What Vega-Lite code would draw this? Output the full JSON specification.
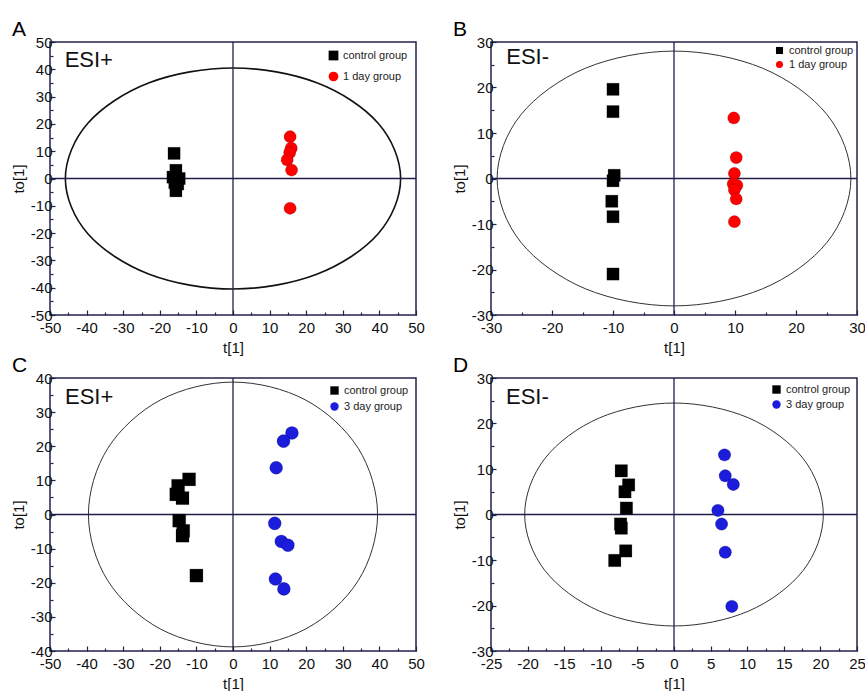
{
  "$schema": "https://vega.github.io/schema/vega-lite/v6.json",
  "padding": {"left": 10, "top": 18, "right": 0, "bottom": 0},
  "background": "white",
  "config": {
    "font": "Liberation Sans",
    "view": {"stroke": "#23234b", "strokeWidth": 1.5},
    "axis": {"domain": false, "grid": false, "ticks": true, "tickColor": "#23234b", "tickWidth": 1.2, "tickSize": -5, "labelFont": "Liberation Sans", "labelFontSize": 15, "labelColor": "#111", "labelPadding": 3, "labelFlush": false, "labelOverlap": false, "labelBound": false, "titleFont": "Liberation Sans", "titleFontSize": 15, "titleFontWeight": "normal", "titleColor": "#111"},
    "axisX": {"titlePadding": 5, "labelPadding": 10},
    "axisY": {"titlePadding": 4},
    "legend": {"labelFont": "Liberation Sans", "labelFontSize": 11, "labelColor": "#222", "symbolStrokeWidth": 0},
    "title": {"anchor": "start", "frame": "group", "fontSize": 21, "fontWeight": "normal", "font": "Liberation Sans", "dx": -38, "offset": -5, "color": "#000"}
  },
  "datasets": {
    "ellA": [{"i":0,"t":45.8,"to":0},{"i":1,"t":39.66,"to":20.25},{"i":2,"t":22.9,"to":35.07},{"i":3,"t":0,"to":40.5},{"i":4,"t":-22.9,"to":35.07},{"i":5,"t":-39.66,"to":20.25},{"i":6,"t":-45.8,"to":0},{"i":7,"t":-39.66,"to":-20.25},{"i":8,"t":-22.9,"to":-35.07},{"i":9,"t":0,"to":-40.5},{"i":10,"t":22.9,"to":-35.07},{"i":11,"t":39.66,"to":-20.25}],
    "ellB": [{"i":0,"t":29,"to":0},{"i":1,"t":25.11,"to":14},{"i":2,"t":14.5,"to":24.25},{"i":3,"t":0,"to":28},{"i":4,"t":-14.5,"to":24.25},{"i":5,"t":-25.11,"to":14},{"i":6,"t":-29,"to":0},{"i":7,"t":-25.11,"to":-14},{"i":8,"t":-14.5,"to":-24.25},{"i":9,"t":0,"to":-28},{"i":10,"t":14.5,"to":-24.25},{"i":11,"t":25.11,"to":-14}],
    "ellC": [{"i":0,"t":39.5,"to":0},{"i":1,"t":34.21,"to":19.4},{"i":2,"t":19.75,"to":33.6},{"i":3,"t":0,"to":38.8},{"i":4,"t":-19.75,"to":33.6},{"i":5,"t":-34.21,"to":19.4},{"i":6,"t":-39.5,"to":0},{"i":7,"t":-34.21,"to":-19.4},{"i":8,"t":-19.75,"to":-33.6},{"i":9,"t":0,"to":-38.8},{"i":10,"t":19.75,"to":-33.6},{"i":11,"t":34.21,"to":-19.4}],
    "ellD": [{"i":0,"t":20.4,"to":0},{"i":1,"t":17.67,"to":12.25},{"i":2,"t":10.2,"to":21.22},{"i":3,"t":0,"to":24.5},{"i":4,"t":-10.2,"to":21.22},{"i":5,"t":-17.67,"to":12.25},{"i":6,"t":-20.4,"to":0},{"i":7,"t":-17.67,"to":-12.25},{"i":8,"t":-10.2,"to":-21.22},{"i":9,"t":0,"to":-24.5},{"i":10,"t":10.2,"to":-21.22},{"i":11,"t":17.67,"to":-12.25}],
    "ptsA": [
      {"group":"control group","t":-16.1,"to":9.2},{"group":"control group","t":-15.6,"to":3.0},{"group":"control group","t":-16.4,"to":0.5},{"group":"control group","t":-14.7,"to":0.0},{"group":"control group","t":-15.9,"to":-1.5},{"group":"control group","t":-15.1,"to":-2.0},{"group":"control group","t":-15.6,"to":-4.5},
      {"group":"1 day group","t":15.6,"to":15.3},{"group":"1 day group","t":15.9,"to":11.1},{"group":"1 day group","t":15.5,"to":9.5},{"group":"1 day group","t":14.8,"to":6.8},{"group":"1 day group","t":16.0,"to":3.1},{"group":"1 day group","t":15.6,"to":-10.9}],
    "ptsB": [
      {"group":"control group","t":-10,"to":19.6},{"group":"control group","t":-10,"to":14.7},{"group":"control group","t":-9.8,"to":0.7},{"group":"control group","t":-10,"to":-0.5},{"group":"control group","t":-10.2,"to":-5},{"group":"control group","t":-10,"to":-8.4},{"group":"control group","t":-10,"to":-21},
      {"group":"1 day group","t":9.8,"to":13.3},{"group":"1 day group","t":10.2,"to":4.6},{"group":"1 day group","t":9.9,"to":1.1},{"group":"1 day group","t":9.7,"to":-1.2},{"group":"1 day group","t":10.3,"to":-1.5},{"group":"1 day group","t":9.9,"to":-2.5},{"group":"1 day group","t":10.2,"to":-4.5},{"group":"1 day group","t":9.9,"to":-9.5}],
    "ptsC": [
      {"group":"control group","t":-12,"to":10.3},{"group":"control group","t":-15,"to":8.4},{"group":"control group","t":-15.5,"to":5.9},{"group":"control group","t":-13.8,"to":4.8},{"group":"control group","t":-14.7,"to":-1.8},{"group":"control group","t":-13.6,"to":-4.8},{"group":"control group","t":-13.8,"to":-6.2},{"group":"control group","t":-10,"to":-17.9},
      {"group":"3 day group","t":16.1,"to":23.9},{"group":"3 day group","t":13.8,"to":21.5},{"group":"3 day group","t":11.8,"to":13.7},{"group":"3 day group","t":11.4,"to":-2.6},{"group":"3 day group","t":13.2,"to":-7.9},{"group":"3 day group","t":15,"to":-9},{"group":"3 day group","t":11.6,"to":-18.9},{"group":"3 day group","t":13.9,"to":-21.8}],
    "ptsD": [
      {"group":"control group","t":-7.2,"to":9.6},{"group":"control group","t":-6.2,"to":6.5},{"group":"control group","t":-6.7,"to":5.0},{"group":"control group","t":-6.5,"to":1.4},{"group":"control group","t":-7.3,"to":-2.1},{"group":"control group","t":-7.2,"to":-3.0},{"group":"control group","t":-6.6,"to":-8.0},{"group":"control group","t":-8.1,"to":-10.1},
      {"group":"3 day group","t":6.9,"to":13.1},{"group":"3 day group","t":7.0,"to":8.5},{"group":"3 day group","t":8.1,"to":6.6},{"group":"3 day group","t":6.0,"to":0.9},{"group":"3 day group","t":6.5,"to":-2.1},{"group":"3 day group","t":7.0,"to":-8.3},{"group":"3 day group","t":7.9,"to":-20.2}]
  },
  "columns": 2,
  "spacing": {"row": 63, "column": 75},
  "bounds": "flush",
  "resolve": {"scale": {"color": "independent", "shape": "independent"}, "legend": {"color": "independent", "shape": "independent"}},
  "concat": [
    {
      "title": {"text": "A"},
      "width": 366, "height": 273,
      "resolve": {"axis": {"x": "independent", "y": "independent"}},
      "layer": [
        {"data": {"name": "ellA"}, "mark": {"type": "line", "interpolate": "cardinal-closed", "color": "#111", "strokeWidth": 1.6},
         "encoding": {
           "x": {"field": "t", "type": "quantitative", "scale": {"domain": [-50, 50], "nice": false, "zero": false}, "axis": {"orient": "bottom", "title": "t[1]", "values": [-50,-40,-30,-20,-10,0,10,20,30,40,50], "labelExpr": "'' + datum.value"}},
           "y": {"field": "to", "type": "quantitative", "scale": {"domain": [-50, 50], "nice": false, "zero": false}, "axis": {"orient": "left", "title": "to[1]", "values": [-50,-40,-30,-20,-10,0,10,20,30,40,50], "labelExpr": "'' + datum.value"}},
           "order": {"field": "i", "type": "quantitative"}}},
        {"data": {"values": [{}]}, "mark": {"type": "rule", "color": "#1f1f4a", "strokeWidth": 1.3}, "encoding": {"x": {"datum": 0, "type": "quantitative", "axis": {"orient": "bottom", "title": null, "labels": false, "tickSize": -3, "values": [-45,-35,-25,-15,-5,5,15,25,35,45]}}}},
        {"data": {"values": [{}]}, "mark": {"type": "rule", "color": "#1f1f4a", "strokeWidth": 1.3}, "encoding": {"y": {"datum": 0, "type": "quantitative", "axis": {"orient": "left", "title": null, "labels": false, "tickSize": -3, "values": [-45,-35,-25,-15,-5,5,15,25,35,45]}}}},
        {"data": {"name": "ptsA"}, "mark": {"type": "point", "filled": true, "opacity": 1, "size": 150, "stroke": "#000", "strokeWidth": 0.5, "strokeOpacity": 0.35},
         "encoding": {
           "x": {"field": "t", "type": "quantitative", "axis": null},
           "y": {"field": "to", "type": "quantitative", "axis": null},
           "color": {"field": "group", "type": "nominal", "scale": {"domain": ["control group", "1 day group"], "range": ["#000000", "#ff0000"]}, "legend": {"title": null, "orient": "top-right", "offset": 8, "symbolSize": 95, "rowPadding": 9}},
           "shape": {"field": "group", "type": "nominal", "scale": {"domain": ["control group", "1 day group"], "range": ["square", "circle"]}}}},
        {"data": {"values": [{"t": -46, "to": 43.4, "label": "ESI+"}]}, "mark": {"type": "text", "align": "left", "baseline": "middle", "fontSize": 22, "color": "#111"},
         "encoding": {"x": {"field": "t", "type": "quantitative", "axis": null}, "y": {"field": "to", "type": "quantitative", "axis": null}, "text": {"field": "label"}}}
      ]
    },
    {
      "title": {"text": "B"},
      "width": 366, "height": 273,
      "resolve": {"axis": {"x": "independent", "y": "independent"}},
      "layer": [
        {"data": {"name": "ellB"}, "mark": {"type": "line", "interpolate": "cardinal-closed", "color": "#333", "strokeWidth": 1},
         "encoding": {
           "x": {"field": "t", "type": "quantitative", "scale": {"domain": [-30, 30], "nice": false, "zero": false}, "axis": {"orient": "bottom", "title": "t[1]", "values": [-30,-20,-10,0,10,20,30], "labelExpr": "'' + datum.value"}},
           "y": {"field": "to", "type": "quantitative", "scale": {"domain": [-30, 30], "nice": false, "zero": false}, "axis": {"orient": "left", "title": "to[1]", "values": [-30,-20,-10,0,10,20,30], "labelExpr": "'' + datum.value"}},
           "order": {"field": "i", "type": "quantitative"}}},
        {"data": {"values": [{}]}, "mark": {"type": "rule", "color": "#1f1f4a", "strokeWidth": 1.3}, "encoding": {"x": {"datum": 0, "type": "quantitative", "axis": {"orient": "bottom", "title": null, "labels": false, "tickSize": -3, "values": [-25,-15,-5,5,15,25]}}}},
        {"data": {"values": [{}]}, "mark": {"type": "rule", "color": "#1f1f4a", "strokeWidth": 1.3}, "encoding": {"y": {"datum": 0, "type": "quantitative", "axis": {"orient": "left", "title": null, "labels": false, "tickSize": -3, "values": [-25,-15,-5,5,15,25]}}}},
        {"data": {"name": "ptsB"}, "mark": {"type": "point", "filled": true, "opacity": 1, "size": 150, "stroke": "#000", "strokeWidth": 0.5, "strokeOpacity": 0.35},
         "encoding": {
           "x": {"field": "t", "type": "quantitative", "axis": null},
           "y": {"field": "to", "type": "quantitative", "axis": null},
           "color": {"field": "group", "type": "nominal", "scale": {"domain": ["control group", "1 day group"], "range": ["#000000", "#ff0000"]}, "legend": {"title": null, "orient": "top-right", "offset": 3, "symbolSize": 50, "rowPadding": 2}},
           "shape": {"field": "group", "type": "nominal", "scale": {"domain": ["control group", "1 day group"], "range": ["square", "circle"]}}}},
        {"data": {"values": [{"t": -27.5, "to": 26.7, "label": "ESI-"}]}, "mark": {"type": "text", "align": "left", "baseline": "middle", "fontSize": 22, "color": "#111"},
         "encoding": {"x": {"field": "t", "type": "quantitative", "axis": null}, "y": {"field": "to", "type": "quantitative", "axis": null}, "text": {"field": "label"}}}
      ]
    },
    {
      "title": {"text": "C"},
      "width": 366, "height": 273,
      "resolve": {"axis": {"x": "independent", "y": "independent"}},
      "layer": [
        {"data": {"name": "ellC"}, "mark": {"type": "line", "interpolate": "cardinal-closed", "color": "#333", "strokeWidth": 1},
         "encoding": {
           "x": {"field": "t", "type": "quantitative", "scale": {"domain": [-50, 50], "nice": false, "zero": false}, "axis": {"orient": "bottom", "title": "t[1]", "values": [-50,-40,-30,-20,-10,0,10,20,30,40,50], "labelExpr": "'' + datum.value"}},
           "y": {"field": "to", "type": "quantitative", "scale": {"domain": [-40, 40], "nice": false, "zero": false}, "axis": {"orient": "left", "title": "to[1]", "values": [-40,-30,-20,-10,0,10,20,30,40], "labelExpr": "'' + datum.value"}},
           "order": {"field": "i", "type": "quantitative"}}},
        {"data": {"values": [{}]}, "mark": {"type": "rule", "color": "#1f1f4a", "strokeWidth": 1.3}, "encoding": {"x": {"datum": 0, "type": "quantitative", "axis": {"orient": "bottom", "title": null, "labels": false, "tickSize": -3, "values": [-45,-35,-25,-15,-5,5,15,25,35,45]}}}},
        {"data": {"values": [{}]}, "mark": {"type": "rule", "color": "#1f1f4a", "strokeWidth": 1.3}, "encoding": {"y": {"datum": 0, "type": "quantitative", "axis": {"orient": "left", "title": null, "labels": false, "tickSize": -3, "values": [-35,-25,-15,-5,5,15,25,35]}}}},
        {"data": {"name": "ptsC"}, "mark": {"type": "point", "filled": true, "opacity": 1, "size": 170, "stroke": "#000", "strokeWidth": 0.5, "strokeOpacity": 0.35},
         "encoding": {
           "x": {"field": "t", "type": "quantitative", "axis": null},
           "y": {"field": "to", "type": "quantitative", "axis": null},
           "color": {"field": "group", "type": "nominal", "scale": {"domain": ["control group", "3 day group"], "range": ["#000000", "#1c1cdc"]}, "legend": {"title": null, "orient": "top-right", "offset": 7, "symbolSize": 70, "rowPadding": 4}},
           "shape": {"field": "group", "type": "nominal", "scale": {"domain": ["control group", "3 day group"], "range": ["square", "circle"]}}}},
        {"data": {"values": [{"t": -45.9, "to": 34.4, "label": "ESI+"}]}, "mark": {"type": "text", "align": "left", "baseline": "middle", "fontSize": 22, "color": "#111"},
         "encoding": {"x": {"field": "t", "type": "quantitative", "axis": null}, "y": {"field": "to", "type": "quantitative", "axis": null}, "text": {"field": "label"}}}
      ]
    },
    {
      "title": {"text": "D"},
      "width": 366, "height": 273,
      "resolve": {"axis": {"x": "independent", "y": "independent"}},
      "layer": [
        {"data": {"name": "ellD"}, "mark": {"type": "line", "interpolate": "cardinal-closed", "color": "#333", "strokeWidth": 1},
         "encoding": {
           "x": {"field": "t", "type": "quantitative", "scale": {"domain": [-25, 25], "nice": false, "zero": false}, "axis": {"orient": "bottom", "title": "t[1]", "values": [-25,-20,-15,-10,-5,0,5,10,15,20,25], "labelExpr": "'' + datum.value"}},
           "y": {"field": "to", "type": "quantitative", "scale": {"domain": [-30, 30], "nice": false, "zero": false}, "axis": {"orient": "left", "title": "to[1]", "values": [-30,-20,-10,0,10,20,30], "labelExpr": "'' + datum.value"}},
           "order": {"field": "i", "type": "quantitative"}}},
        {"data": {"values": [{}]}, "mark": {"type": "rule", "color": "#1f1f4a", "strokeWidth": 1.3}, "encoding": {"x": {"datum": 0, "type": "quantitative", "axis": {"orient": "bottom", "title": null, "labels": false, "tickSize": -3, "values": [-22.5,-17.5,-12.5,-7.5,-2.5,2.5,7.5,12.5,17.5,22.5]}}}},
        {"data": {"values": [{}]}, "mark": {"type": "rule", "color": "#1f1f4a", "strokeWidth": 1.3}, "encoding": {"y": {"datum": 0, "type": "quantitative", "axis": {"orient": "left", "title": null, "labels": false, "tickSize": -3, "values": [-25,-15,-5,5,15,25]}}}},
        {"data": {"name": "ptsD"}, "mark": {"type": "point", "filled": true, "opacity": 1, "size": 155, "stroke": "#000", "strokeWidth": 0.5, "strokeOpacity": 0.35},
         "encoding": {
           "x": {"field": "t", "type": "quantitative", "axis": null},
           "y": {"field": "to", "type": "quantitative", "axis": null},
           "color": {"field": "group", "type": "nominal", "scale": {"domain": ["control group", "3 day group"], "range": ["#000000", "#1c1cdc"]}, "legend": {"title": null, "orient": "top-right", "offset": 6, "symbolSize": 70, "rowPadding": 3}},
           "shape": {"field": "group", "type": "nominal", "scale": {"domain": ["control group", "3 day group"], "range": ["square", "circle"]}}}},
        {"data": {"values": [{"t": -22.95, "to": 25.8, "label": "ESI-"}]}, "mark": {"type": "text", "align": "left", "baseline": "middle", "fontSize": 22, "color": "#111"},
         "encoding": {"x": {"field": "t", "type": "quantitative", "axis": null}, "y": {"field": "to", "type": "quantitative", "axis": null}, "text": {"field": "label"}}}
      ]
    }
  ]
}
